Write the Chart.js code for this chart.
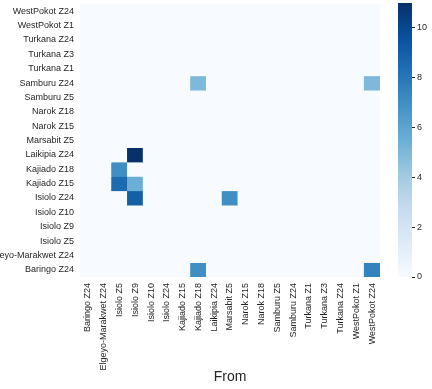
<!DOCTYPE html>
<html>
<head>
<meta charset="utf-8">
<script src="https://cdn.jsdelivr.net/npm/chart.js@4/dist/chart.umd.min.js"></script>
<style>
    body { margin: 0; background: #fff; }
    #wrap { position: relative; width: 432px; height: 389px; }
    canvas { position: absolute; top: 0; }
    #heatCanvas { left: 0; }
    #barCanvas { left: 390px; }
</style>
</head>
<body>
<div id="wrap">
    <canvas id="heatCanvas" width="432" height="389"></canvas>
    <canvas id="barCanvas" width="42" height="389"></canvas>
</div>
<script>
//Setting all content data
const fromZones = ['Baringo Z24', 'Elgeyo-Marakwet Z24', 'Isiolo Z5', 'Isiolo Z9', 'Isiolo Z10', 'Isiolo Z24',
    'Kajiado Z15', 'Kajiado Z18', 'Laikipia Z24', 'Marsabit Z5', 'Narok Z15', 'Narok Z18', 'Samburu Z5',
    'Samburu Z24', 'Turkana Z1', 'Turkana Z3', 'Turkana Z24', 'WestPokot Z1', 'WestPokot Z24']

//rows, top to bottom
const toZones = ['WestPokot Z24', 'WestPokot Z1', 'Turkana Z24', 'Turkana Z3', 'Turkana Z1', 'Samburu Z24',
    'Samburu Z5', 'Narok Z18', 'Narok Z15', 'Marsabit Z5', 'Laikipia Z24', 'Kajiado Z18', 'Kajiado Z15',
    'Isiolo Z24', 'Isiolo Z10', 'Isiolo Z9', 'Isiolo Z5', 'Elgeyo-Marakwet Z24', 'Baringo Z24']

//one row per entry of toZones, one column per entry of fromZones
const counts = [
    [0, 0, 0, 0, 0, 0, 0, 0, 0, 0, 0, 0, 0, 0, 0, 0, 0, 0, 0],
    [0, 0, 0, 0, 0, 0, 0, 0, 0, 0, 0, 0, 0, 0, 0, 0, 0, 0, 0],
    [0, 0, 0, 0, 0, 0, 0, 0, 0, 0, 0, 0, 0, 0, 0, 0, 0, 0, 0],
    [0, 0, 0, 0, 0, 0, 0, 0, 0, 0, 0, 0, 0, 0, 0, 0, 0, 0, 0],
    [0, 0, 0, 0, 0, 0, 0, 0, 0, 0, 0, 0, 0, 0, 0, 0, 0, 0, 0],
    [0, 0, 0, 0, 0, 0, 0, 5, 0, 0, 0, 0, 0, 0, 0, 0, 0, 0, 5],
    [0, 0, 0, 0, 0, 0, 0, 0, 0, 0, 0, 0, 0, 0, 0, 0, 0, 0, 0],
    [0, 0, 0, 0, 0, 0, 0, 0, 0, 0, 0, 0, 0, 0, 0, 0, 0, 0, 0],
    [0, 0, 0, 0, 0, 0, 0, 0, 0, 0, 0, 0, 0, 0, 0, 0, 0, 0, 0],
    [0, 0, 0, 0, 0, 0, 0, 0, 0, 0, 0, 0, 0, 0, 0, 0, 0, 0, 0],
    [0, 0, 0, 11, 0, 0, 0, 0, 0, 0, 0, 0, 0, 0, 0, 0, 0, 0, 0],
    [0, 0, 7, 0, 0, 0, 0, 0, 0, 0, 0, 0, 0, 0, 0, 0, 0, 0, 0],
    [0, 0, 8.5, 5.5, 0, 0, 0, 0, 0, 0, 0, 0, 0, 0, 0, 0, 0, 0, 0],
    [0, 0, 0, 9, 0, 0, 0, 0, 0, 7, 0, 0, 0, 0, 0, 0, 0, 0, 0],
    [0, 0, 0, 0, 0, 0, 0, 0, 0, 0, 0, 0, 0, 0, 0, 0, 0, 0, 0],
    [0, 0, 0, 0, 0, 0, 0, 0, 0, 0, 0, 0, 0, 0, 0, 0, 0, 0, 0],
    [0, 0, 0, 0, 0, 0, 0, 0, 0, 0, 0, 0, 0, 0, 0, 0, 0, 0, 0],
    [0, 0, 0, 0, 0, 0, 0, 0, 0, 0, 0, 0, 0, 0, 0, 0, 0, 0, 0],
    [0, 0, 0, 0, 0, 0, 0, 7, 0, 0, 0, 0, 0, 0, 0, 0, 0, 0, 7.5]
]

const colorbarTicks = [0, 2, 4, 6, 8, 10]
const colorMax = 11

//Blues colour map
const bluesStops = ['#f7fbff', '#deebf7', '#c6dbef', '#9ecae1', '#6baed6', '#4292c6', '#2171b5', '#08519c', '#08306b']

function hexToRgb(hex)
{
    return [1, 3, 5].map(i => parseInt(hex.substr(i, 2), 16))
}

function blues(t)
{
    t = Math.max(0, Math.min(1, t))
    const p = t * (bluesStops.length - 1)
    const i = Math.min(Math.floor(p), bluesStops.length - 2)
    const f = p - i
    const a = hexToRgb(bluesStops[i])
    const b = hexToRgb(bluesStops[i + 1])
    const c = a.map((v, k) => Math.round(v + (b[k] - v) * f))
    return `rgb(${c[0]}, ${c[1]}, ${c[2]})`
}

const textColor = '#262626'
Chart.defaults.font.family = "'Liberation Sans', Arial, sans-serif"
Chart.defaults.color = textColor

const rowCount = toZones.length

//Heatmap: one floating-bar dataset per row
const heatDatasets = toZones.map((zone, r) =>
{
    const y = rowCount - 1 - r
    return {
        label: zone,
        data: fromZones.map(() => [y, y + 1]),
        backgroundColor: counts[r].map(v => blues(v / colorMax)),
        grouped: false,
        barPercentage: 1,
        categoryPercentage: 1,
        borderWidth: 0
    }
})

const heatChart = new Chart(
    document.getElementById('heatCanvas'),
    {
        type: 'bar',
        data:
        {
            labels: fromZones,
            datasets: heatDatasets
        },
        options:
        {
            responsive: false,
            animation: false,
            layout:
            {
                padding: {top: 4, right: 52, bottom: 0, left: 0}
            },
            plugins:
            {
                legend: {display: false},
                tooltip: {enabled: false}
            },
            scales:
            {
                x:
                {
                    type: 'category',
                    offset: true,
                    afterFit: scale =>
                    {
                        scale.height = 112
                        scale.paddingLeft = 0
                        scale.paddingRight = 0
                    },
                    grid: {display: false, drawTicks: false},
                    border: {display: false},
                    ticks:
                    {
                        autoSkip: false,
                        minRotation: 90,
                        maxRotation: 90,
                        padding: 6,
                        font: {size: 9}
                    },
                    title:
                    {
                        display: true,
                        text: 'From',
                        font: {size: 14},
                        padding: {top: 4, bottom: 3}
                    }
                },
                y:
                {
                    type: 'linear',
                    min: 0,
                    max: rowCount,
                    afterFit: scale =>
                    {
                        scale.width = 80
                        scale.paddingTop = 0
                        scale.paddingBottom = 0
                    },
                    afterBuildTicks: scale =>
                    {
                        scale.ticks = toZones.map((z, r) => ({value: rowCount - 1 - r + 0.5}))
                    },
                    grid: {display: false, drawTicks: false},
                    border: {display: false},
                    ticks:
                    {
                        autoSkip: false,
                        padding: 6,
                        font: {size: 9},
                        callback: value => toZones[rowCount - 1 - Math.floor(value)]
                    }
                }
            }
        }
    }
)

//Colour bar
const barChart = new Chart(
    document.getElementById('barCanvas'),
    {
        type: 'bar',
        data:
        {
            labels: [''],
            datasets:
                [{
                    data: [[0, colorMax]],
                    backgroundColor: ctx =>
                    {
                        const area = ctx.chart.chartArea
                        if (!area) return bluesStops[0]
                        const g = ctx.chart.ctx.createLinearGradient(0, area.bottom, 0, area.top)
                        bluesStops.forEach((c, i) => g.addColorStop(i / (bluesStops.length - 1), c))
                        return g
                    },
                    barPercentage: 1,
                    categoryPercentage: 1,
                    borderWidth: 0
                }]
        },
        options:
        {
            responsive: false,
            animation: false,
            layout:
            {
                padding: {top: 3, right: 0, bottom: 112, left: 8}
            },
            plugins:
            {
                legend: {display: false},
                tooltip: {enabled: false}
            },
            scales:
            {
                x: {display: false},
                y:
                {
                    position: 'right',
                    min: 0,
                    max: colorMax,
                    afterFit: scale =>
                    {
                        scale.width = 20
                        scale.paddingTop = 0
                        scale.paddingBottom = 0
                    },
                    afterBuildTicks: scale =>
                    {
                        scale.ticks = colorbarTicks.map(v => ({value: v}))
                    },
                    grid:
                    {
                        drawOnChartArea: false,
                        tickLength: 3,
                        tickColor: textColor
                    },
                    border: {display: false},
                    ticks:
                    {
                        padding: 2,
                        font: {size: 9}
                    }
                }
            }
        }
    }
)
</script>
</body>
</html>
